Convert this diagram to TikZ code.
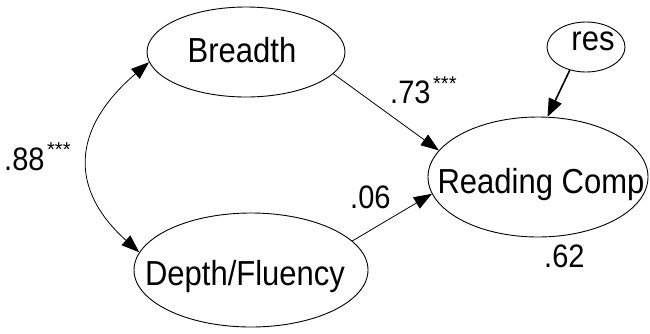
\documentclass[tikz,border=0pt]{standalone}
\usepackage{fontspec}
\usepackage{graphicx}
\setmainfont{Liberation Sans}
\usetikzlibrary{shapes.geometric,arrows.meta}
\newcommand{\tallt}[1]{\scalebox{1}[1.12]{#1}}
\begin{document}
\begin{tikzpicture}[x=1pt,y=-1pt,
  ell/.style={draw, ellipse, inner sep=0pt, line width=0.9pt},
  lbl/.style={font=\fontsize{31}{31}\selectfont, inner sep=0pt, anchor=base},
  num/.style={font=\fontsize{29}{29}\selectfont, inner sep=0pt, anchor=base west},
  star/.style={font=\fontsize{20}{20}\selectfont, inner sep=0pt, anchor=base west},
  arr/.style={line width=0.8pt, -{Triangle[length=18pt,width=13pt]}},
  biarr/.style={line width=0.8pt, {Triangle[length=18pt,width=13pt]}-{Triangle[length=18pt,width=13pt]}},
  resarr/.style={line width=1.6pt, -{Triangle[length=18pt,width=14pt]}},
]
\useasboundingbox (0,0) rectangle (650,333);
% ellipses
\node[ell, minimum width=198pt, minimum height=90pt] (B) at (246,52) {};
\node[ell, minimum width=234pt, minimum height=114pt] (D) at (251,270) {};
\node[ell, minimum width=220pt, minimum height=120pt] (R) at (538,177) {};
\node[ell, minimum width=78pt, minimum height=50pt] (res) at (586,47) {};
% texts
\node[lbl] (tB) at (242,62) {\tallt{Breadth}};
\node[lbl] (tD) at (245,285) {\tallt{Depth/Fluency}};
\node[lbl] (tR) at (541,193) {\tallt{Reading Comp}};
\node[lbl] (tres) at (593,50) {\tallt{res}};
% connectors
\draw[arr] (B.-14.8) -- (R.165);
\draw[arr] (D.16.9) -- (R.-171.3);
\draw[resarr] (res.-125.5) -- (R.81.5);
\draw[biarr] (B.186.5) .. controls (70,130) and (70,190) .. (D.171.4);
% coefficients
\node[num] (n88) at (4,170) {\tallt{.88}};
\node[star] (s88) at (47,156) {***};
\node[num] (n73) at (390,103) {\tallt{.73}};
\node[star] (s73) at (433,90) {***};
\node[num] (n06) at (350,208) {\tallt{.06}};
\node[num] (n62) at (544,267) {\tallt{.62}};
\end{tikzpicture}
\end{document}
